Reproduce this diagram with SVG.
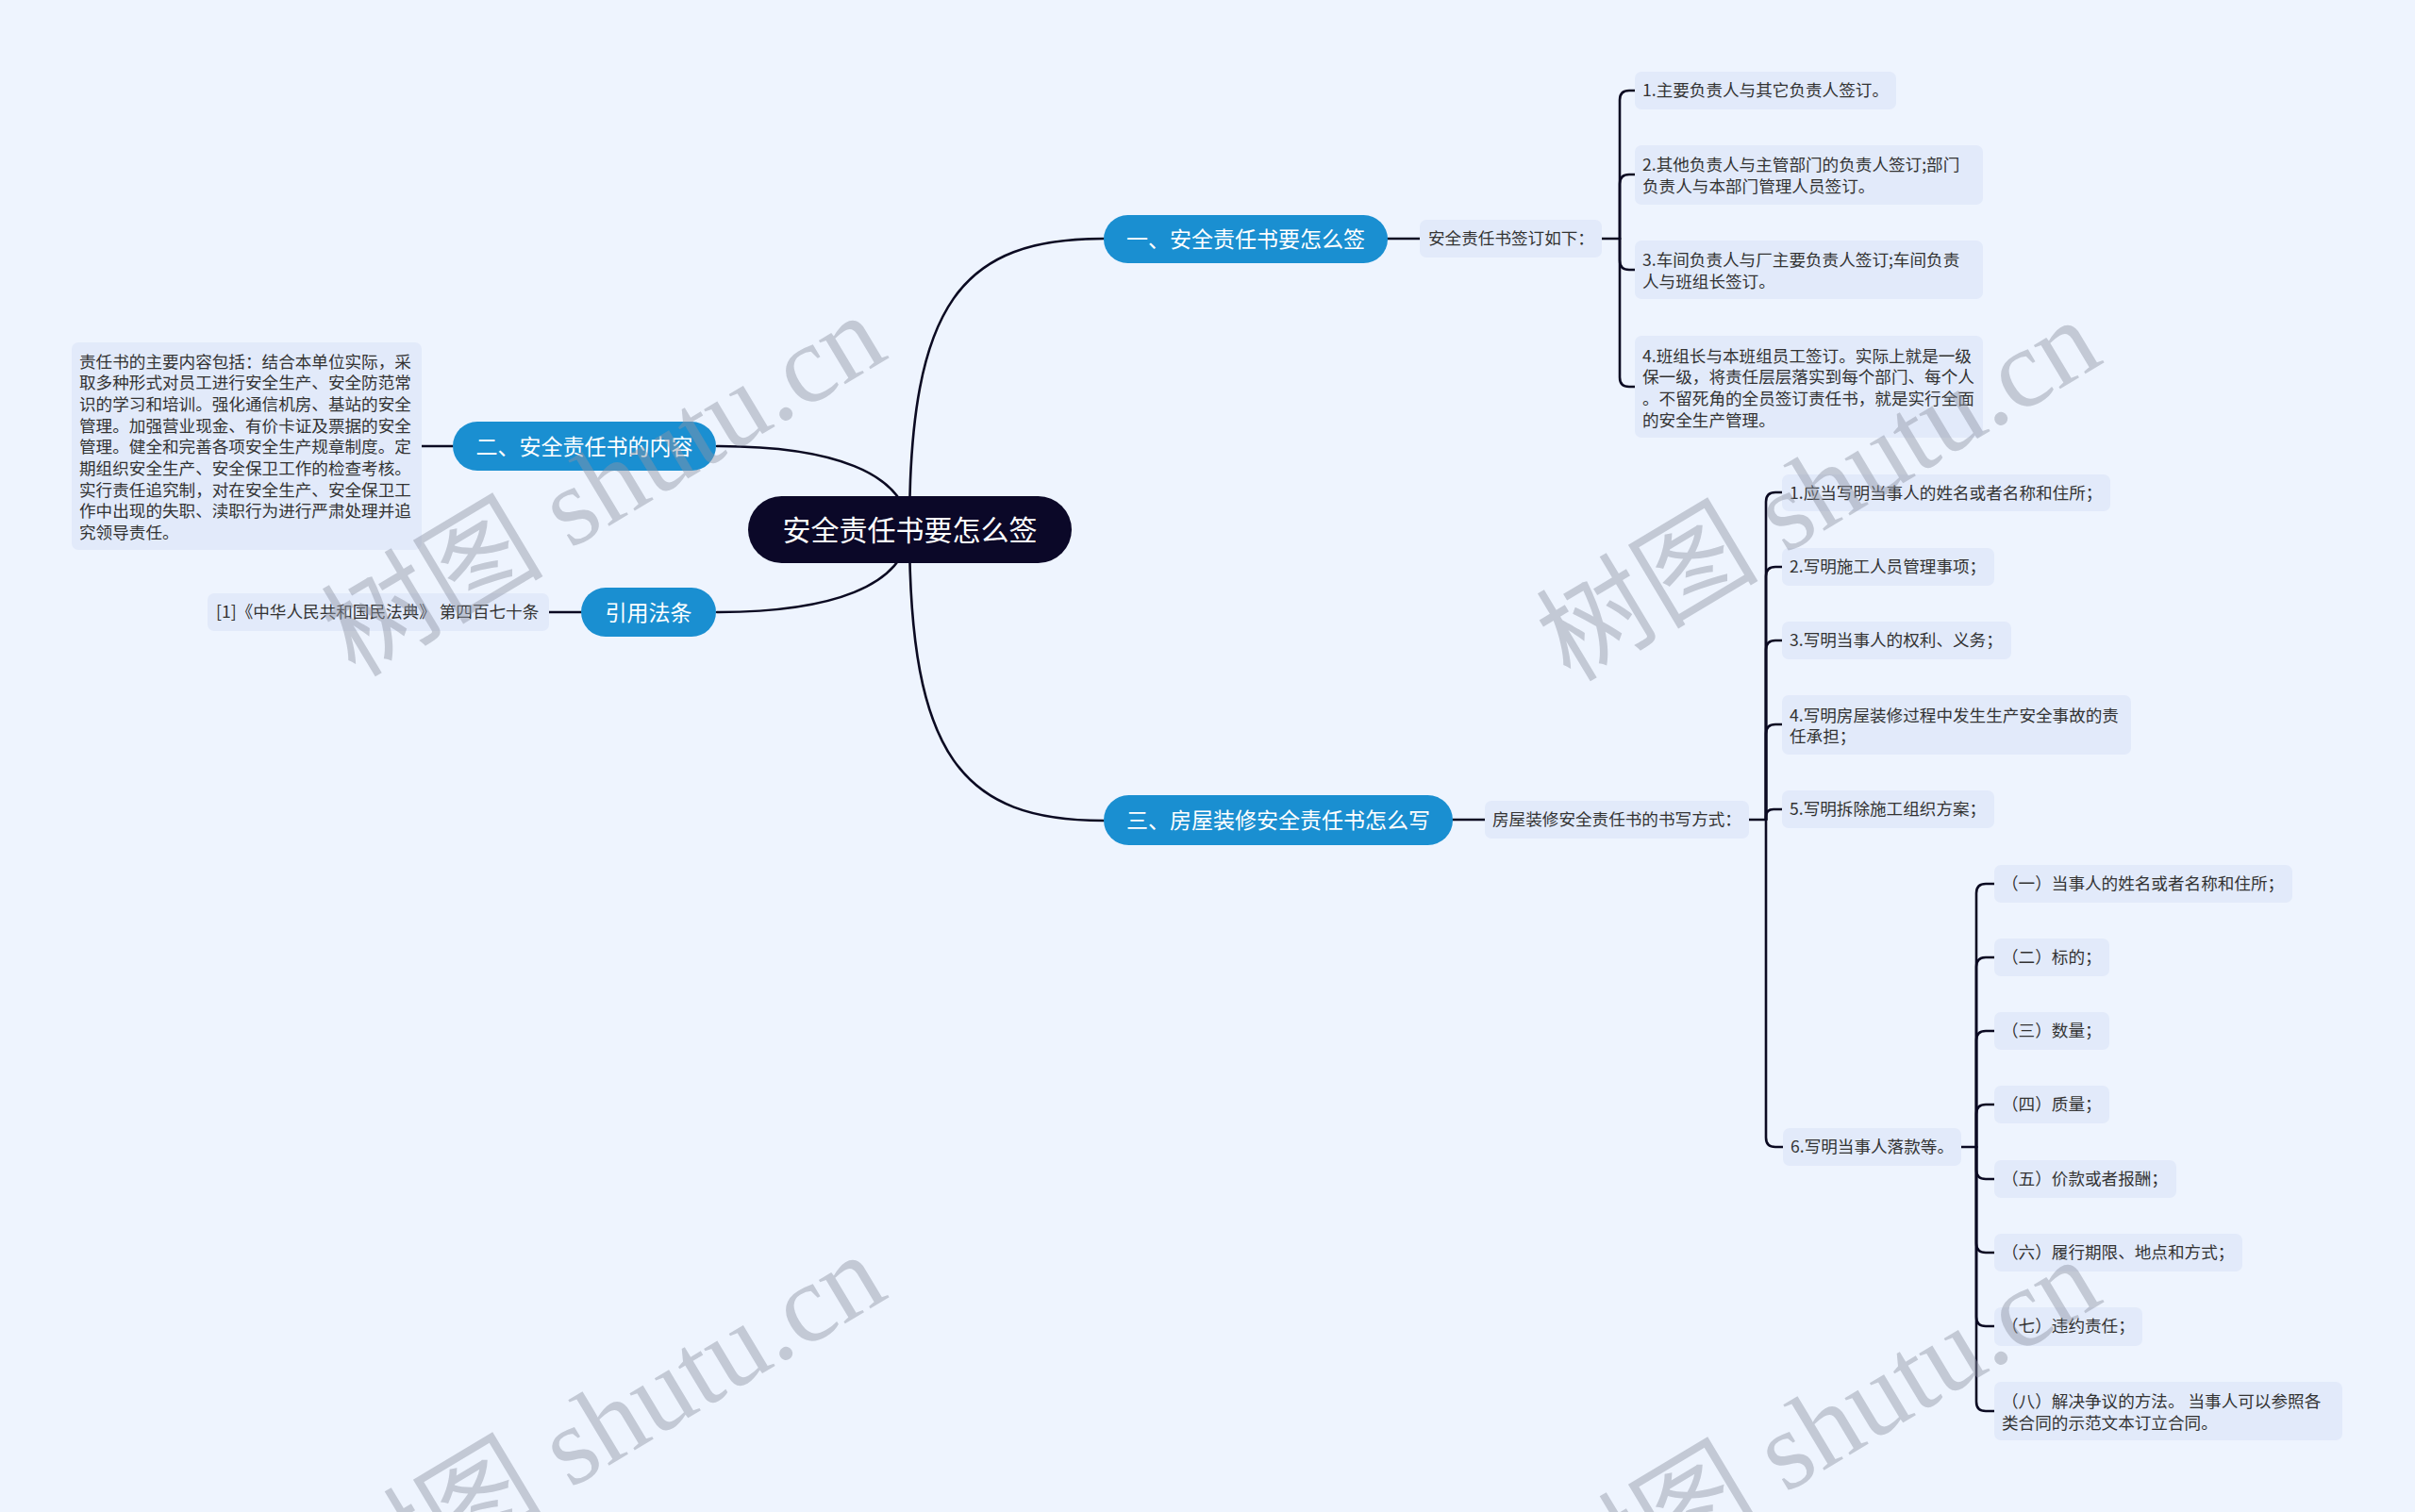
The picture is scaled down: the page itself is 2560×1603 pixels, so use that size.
<svg xmlns="http://www.w3.org/2000/svg" width="2560" height="1603" viewBox="0 0 2560 1603">
<defs>
<style>
.bg{fill:#eef4fe}
.conn{fill:none;stroke:#0b0a22;stroke-width:2.6;stroke-linecap:round}
.root{fill:#0b0828}
.main{fill:#1a8fd1}
.box{fill:#e2eafa}
.rt{font-family:"Noto Sans CJK SC","Noto Sans",sans-serif;font-size:30px;fill:#ffffff;text-anchor:middle;dominant-baseline:central}
.mt{font-family:"Noto Sans CJK SC","Noto Sans",sans-serif;font-size:23px;fill:#ffffff;text-anchor:middle;dominant-baseline:central}
.st{font-family:"Noto Sans CJK SC","Noto Sans",sans-serif;font-size:17.6px;fill:#333333;dominant-baseline:central}
.wm{font-family:"Liberation Serif","Noto Sans CJK SC",serif;font-size:118px;fill:#8e95a3;fill-opacity:0.45;text-anchor:middle;dominant-baseline:central}
</style>
</defs>
<rect class="bg" x="0" y="0" width="2560" height="1603"/>

<g id="connectors">
<path class="conn" d="M964 561 C964 320 1020 253 1170 253"/>
<path class="conn" d="M964 561 C964 802 1020 870 1170 870"/>
<path class="conn" d="M964 561 C960 500 880 473 760 473"/>
<path class="conn" d="M964 561 C960 622 880 649 760 649"/>
<path class="conn" d="M1471 253 L1505 253"/>
<path class="conn" d="M447 473 L480 473"/>
<path class="conn" d="M582 649 L616 649"/>
<path class="conn" d="M1540 869 L1574 869"/>
<path class="conn" d="M1698 253 L1717 253"/>
<path class="conn" d="M1717 253 L1717 106 Q1717 96 1727 96 L1733 96"/>
<path class="conn" d="M1717 253 L1717 195 Q1717 185 1727 185 L1733 185"/>
<path class="conn" d="M1717 253 L1717 276 Q1717 286 1727 286 L1733 286"/>
<path class="conn" d="M1717 253 L1717 400 Q1717 410 1727 410 L1733 410"/>
<path class="conn" d="M1854 869 L1872 869"/>
<path class="conn" d="M1872 869 L1872 532 Q1872 522 1882 522 L1889 522"/>
<path class="conn" d="M1872 869 L1872 611 Q1872 601 1882 601 L1889 601"/>
<path class="conn" d="M1872 869 L1872 689 Q1872 679 1882 679 L1889 679"/>
<path class="conn" d="M1872 869 L1872 778 Q1872 768 1882 768 L1889 768"/>
<path class="conn" d="M1872 869 L1872 866 Q1872 858 1880 858 L1889 858"/>
<path class="conn" d="M1872 869 L1872 1206 Q1872 1216 1882 1216 L1890 1216"/>
<path class="conn" d="M2079 1216 L2095 1216"/>
<path class="conn" d="M2095 1216 L2095 947 Q2095 937 2105 937 L2114 937"/>
<path class="conn" d="M2095 1216 L2095 1025 Q2095 1015 2105 1015 L2114 1015"/>
<path class="conn" d="M2095 1216 L2095 1103 Q2095 1093 2105 1093 L2114 1093"/>
<path class="conn" d="M2095 1216 L2095 1181 Q2095 1171 2105 1171 L2114 1171"/>
<path class="conn" d="M2095 1216 L2095 1240 Q2095 1250 2105 1250 L2114 1250"/>
<path class="conn" d="M2095 1216 L2095 1318 Q2095 1328 2105 1328 L2114 1328"/>
<path class="conn" d="M2095 1216 L2095 1396 Q2095 1406 2105 1406 L2114 1406"/>
<path class="conn" d="M2095 1216 L2095 1486 Q2095 1496 2105 1496 L2114 1496"/>
</g>

<g id="root">
<rect class="root" x="793" y="526" width="343" height="71" rx="35.5"/>
<text class="rt" x="964.5" y="559.5">安全责任书要怎么签</text>
</g>

<g id="n1">
<rect class="main" x="1170" y="228" width="301" height="51" rx="25.5"/>
<text class="mt" x="1320.5" y="252">一、安全责任书要怎么签</text>
</g>
<g id="n2">
<rect class="main" x="480" y="447" width="279" height="52" rx="26"/>
<text class="mt" x="619.5" y="471.5">二、安全责任书的内容</text>
</g>
<g id="n3">
<rect class="main" x="616" y="623" width="143" height="52" rx="26"/>
<text class="mt" x="687.5" y="647.5">引用法条</text>
</g>
<g id="n4">
<rect class="main" x="1170" y="843" width="370" height="53" rx="26.5"/>
<text class="mt" x="1355" y="868">三、房屋装修安全责任书怎么写</text>
</g>

<g id="n1-1">
<rect class="box" x="1505" y="233" width="193" height="40" rx="7"/>
<text class="st" x="1514" y="251.5">安全责任书签订如下：</text>
</g>
<g id="n1-1-1">
<rect class="box" x="1733" y="76" width="277" height="40" rx="7"/>
<text class="st" x="1741" y="94.5">1.主要负责人与其它负责人签订。</text>
</g>
<g id="n1-1-2">
<rect class="box" x="1733" y="154" width="369" height="63" rx="7"/>
<text class="st" x="1741" y="173.5">2.其他负责人与主管部门的负责人签订;部门</text>
<text class="st" x="1741" y="196">负责人与本部门管理人员签订。</text>
</g>
<g id="n1-1-3">
<rect class="box" x="1733" y="255" width="369" height="62" rx="7"/>
<text class="st" x="1741" y="274.5">3.车间负责人与厂主要负责人签订;车间负责</text>
<text class="st" x="1741" y="297">人与班组长签订。</text>
</g>
<g id="n1-1-4">
<rect class="box" x="1733" y="356" width="369" height="108" rx="7"/>
<text class="st" x="1741" y="376">4.班组长与本班组员工签订。实际上就是一级</text>
<text class="st" x="1741" y="398.7">保一级，将责任层层落实到每个部门、每个人</text>
<text class="st" x="1741" y="421.4">。不留死角的全员签订责任书，就是实行全面</text>
<text class="st" x="1741" y="444.1">的安全生产管理。</text>
</g>

<g id="n2-1">
<rect class="box" x="76" y="363" width="371" height="220" rx="7"/>
<text class="st" x="84" y="382">责任书的主要内容包括：结合本单位实际，采</text>
<text class="st" x="84" y="404.7">取多种形式对员工进行安全生产、安全防范常</text>
<text class="st" x="84" y="427.4">识的学习和培训。强化通信机房、基站的安全</text>
<text class="st" x="84" y="450.1">管理。加强营业现金、有价卡证及票据的安全</text>
<text class="st" x="84" y="472.8">管理。健全和完善各项安全生产规章制度。定</text>
<text class="st" x="84" y="495.5">期组织安全生产、安全保卫工作的检查考核。</text>
<text class="st" x="84" y="518.2">实行责任追究制，对在安全生产、安全保卫工</text>
<text class="st" x="84" y="540.9">作中出现的失职、渎职行为进行严肃处理并追</text>
<text class="st" x="84" y="563.6">究领导责任。</text>
</g>

<g id="n3-1">
<rect class="box" x="220" y="629" width="362" height="40" rx="7"/>
<text class="st" x="229" y="647.5">[1]《中华人民共和国民法典》 第四百七十条</text>
</g>

<g id="n4-1">
<rect class="box" x="1574" y="849" width="280" height="40" rx="7"/>
<text class="st" x="1582" y="867.5">房屋装修安全责任书的书写方式：</text>
</g>
<g id="n4-1-1">
<rect class="box" x="1889" y="503" width="348" height="39" rx="7"/>
<text class="st" x="1897" y="521">1.应当写明当事人的姓名或者名称和住所；</text>
</g>
<g id="n4-1-2">
<rect class="box" x="1889" y="581" width="225" height="40" rx="7"/>
<text class="st" x="1897" y="599.5">2.写明施工人员管理事项；</text>
</g>
<g id="n4-1-3">
<rect class="box" x="1889" y="659" width="243" height="40" rx="7"/>
<text class="st" x="1897" y="677.5">3.写明当事人的权利、义务；</text>
</g>
<g id="n4-1-4">
<rect class="box" x="1889" y="737" width="370" height="63" rx="7"/>
<text class="st" x="1897" y="757">4.写明房屋装修过程中发生生产安全事故的责</text>
<text class="st" x="1897" y="779.5">任承担；</text>
</g>
<g id="n4-1-5">
<rect class="box" x="1889" y="838" width="225" height="40" rx="7"/>
<text class="st" x="1897" y="856.5">5.写明拆除施工组织方案；</text>
</g>
<g id="n4-1-6">
<rect class="box" x="1890" y="1196" width="189" height="40" rx="7"/>
<text class="st" x="1898" y="1214.5">6.写明当事人落款等。</text>
</g>

<g id="n4-1-6-1">
<rect class="box" x="2114" y="917" width="316" height="40" rx="7"/>
<text class="st" x="2122" y="935.5">（一）当事人的姓名或者名称和住所；</text>
</g>
<g id="n4-1-6-2">
<rect class="box" x="2114" y="995" width="122" height="40" rx="7"/>
<text class="st" x="2122" y="1013.5">（二）标的；</text>
</g>
<g id="n4-1-6-3">
<rect class="box" x="2114" y="1073" width="122" height="40" rx="7"/>
<text class="st" x="2122" y="1091.5">（三）数量；</text>
</g>
<g id="n4-1-6-4">
<rect class="box" x="2114" y="1151" width="122" height="40" rx="7"/>
<text class="st" x="2122" y="1169.5">（四）质量；</text>
</g>
<g id="n4-1-6-5">
<rect class="box" x="2114" y="1230" width="193" height="40" rx="7"/>
<text class="st" x="2122" y="1248.5">（五）价款或者报酬；</text>
</g>
<g id="n4-1-6-6">
<rect class="box" x="2114" y="1308" width="263" height="40" rx="7"/>
<text class="st" x="2122" y="1326.5">（六）履行期限、地点和方式；</text>
</g>
<g id="n4-1-6-7">
<rect class="box" x="2114" y="1386" width="157" height="41" rx="7"/>
<text class="st" x="2122" y="1404.5">（七）违约责任；</text>
</g>
<g id="n4-1-6-8">
<rect class="box" x="2114" y="1465" width="369" height="62" rx="7"/>
<text class="st" x="2122" y="1484.5">（八）解决争议的方法。 当事人可以参照各</text>
<text class="st" x="2122" y="1507">类合同的示范文本订立合同。</text>
</g>

<g id="watermarks">
<text class="wm" transform="translate(640 515) rotate(-31)">树图 shutu.cn</text>
<text class="wm" transform="translate(1928 520) rotate(-31)">树图 shutu.cn</text>
<text class="wm" transform="translate(640 1511) rotate(-31)">树图 shutu.cn</text>
<text class="wm" transform="translate(1928 1516) rotate(-31)">树图 shutu.cn</text>
</g>
</svg>
